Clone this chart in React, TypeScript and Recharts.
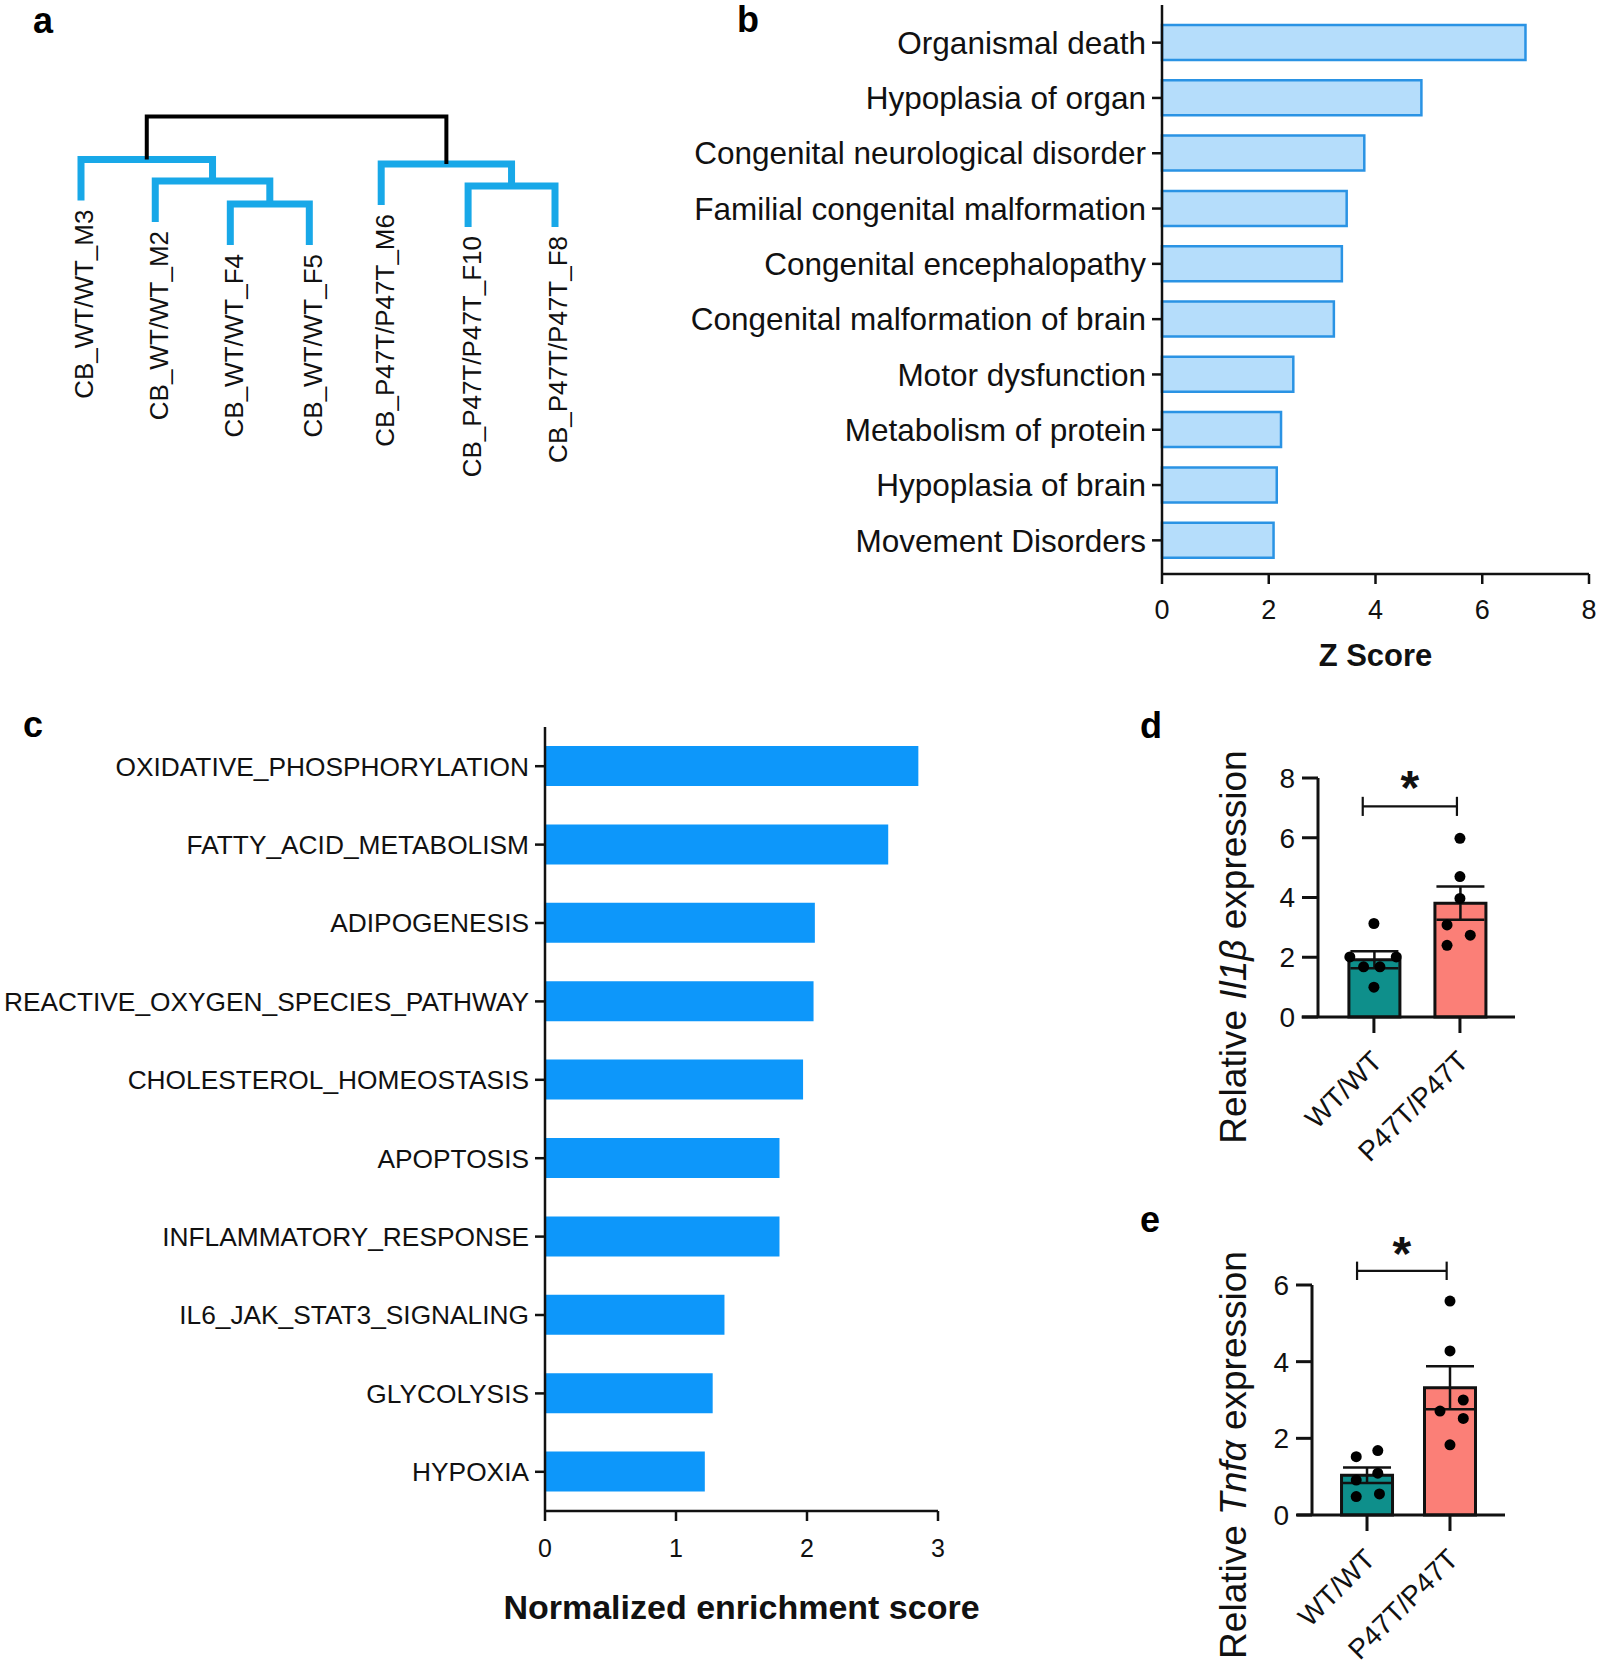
/** Figure: sample clustering, IPA z-scores, GSEA NES and qPCR of Il1b / Tnfa. */

import React from 'react'
import {
  BarChart,
  Bar,
  Cell,
  XAxis,
  YAxis,
  ScatterChart,
  Scatter,
  ComposedChart,
  ErrorBar,
  ReferenceLine,
  ReferenceDot,
  Label,
} from 'recharts'

const FONT = '"Liberation Sans", Arial, Helvetica, sans-serif'
const INK = '#111111'

// ---- a: hierarchical clustering (hclust-style merge table) ----
const leafNames = [
  'CB_WT/WT_M3',
  'CB_WT/WT_M2',
  'CB_WT/WT_F4',
  'CB_WT/WT_F5',
  'CB_P47T/P47T_M6',
  'CB_P47T/P47T_F10',
  'CB_P47T/P47T_F8',
]
// leaf slot along the axis, as drawn in the original
const leafSlot = [0, 0.94, 1.89, 2.89, 3.8, 4.9, 6]
// negative = leaf (1-based), positive = earlier merge row (1-based)
const mergeLeft = [-3, -6, -2, -1, -5, 4]
const mergeRight = [-4, -7, 1, 3, 2, 5]
const mergeHeight = [12.6, 30.6, 35.6, 57, 52.6, 100]
const LEAF_HANG = 41

// ---- b: IPA diseases & functions ----
const ipaTerms = [
  'Organismal death',
  'Hypoplasia of organ',
  'Congenital neurological disorder',
  'Familial congenital malformation',
  'Congenital encephalopathy',
  'Congenital malformation of brain',
  'Motor dysfunction',
  'Metabolism of protein',
  'Hypoplasia of brain',
  'Movement Disorders',
]
const ipaZScores = [6.81, 4.86, 3.79, 3.46, 3.37, 3.22, 2.46, 2.23, 2.15, 2.09]
const zTicks = [0, 2, 4, 6, 8]

// ---- c: GSEA hallmark sets ----
const gseaSets = [
  'OXIDATIVE_PHOSPHORYLATION',
  'FATTY_ACID_METABOLISM',
  'ADIPOGENESIS',
  'REACTIVE_OXYGEN_SPECIES_PATHWAY',
  'CHOLESTEROL_HOMEOSTASIS',
  'APOPTOSIS',
  'INFLAMMATORY_RESPONSE',
  'IL6_JAK_STAT3_SIGNALING',
  'GLYCOLYSIS',
  'HYPOXIA',
]
const gseaNes = [2.85, 2.62, 2.06, 2.05, 1.97, 1.79, 1.79, 1.37, 1.28, 1.22]
const nesTicks = [0, 1, 2, 3]

// ---- d/e: qPCR ----
const genotypes = ['WT/WT', 'P47T/P47T']
const il1bWT = [3.13, 2.01, 2.01, 1.68, 1.68, 1.0]
const il1bP47T = [5.98, 4.7, 3.97, 3.08, 2.74, 2.4]
const tnfaWT = [1.52, 1.68, 0.91, 1.09, 0.48, 0.55]
const tnfaP47T = [5.58, 4.28, 3.0, 2.71, 2.52, 1.83]
const il1bTicks = [0, 2, 4, 6, 8]
const tnfaTicks = [0, 2, 4, 6]

// horizontal spread of the dots inside each bar (category units)
const il1bWTJitter = [0, -0.28, 0.26, -0.12, 0.07, 0]
const il1bP47TJitter = [0, 0, 0, -0.15, 0.12, -0.15]
const tnfaWTJitter = [-0.13, 0.13, -0.13, 0.13, -0.13, 0.15]
const tnfaP47TJitter = [0, 0, 0.16, -0.12, 0.16, 0]

const TEAL = '#0e8f8b'
const SALMON = '#fb7f77'

type Pt = { x: number; y: number }

function buildDendrogram() {
  const merged: Pt[] = []
  const links: Pt[][] = []
  const leaves: (Pt & { name: string })[] = []
  mergeHeight.forEach((h, i) => {
    const kids = [mergeLeft[i], mergeRight[i]].map((ref) => {
      if (ref < 0) {
        const leaf = { x: leafSlot[-ref - 1], y: h - LEAF_HANG, name: leafNames[-ref - 1] }
        leaves.push(leaf)
        return leaf
      }
      return merged[ref - 1]
    })
    merged.push({ x: (kids[0].x + kids[1].x) / 2, y: h })
    links.push([
      { x: kids[0].x, y: kids[0].y },
      { x: kids[0].x, y: h },
      { x: kids[1].x, y: h },
      { x: kids[1].x, y: kids[1].y },
    ])
  })
  return { links, leaves }
}

function Dendrogram() {
  const { links, leaves } = buildDendrogram()
  return (
    <ScatterChart width={620} height={520} margin={{ top: 106.6, right: 25.5, bottom: 243.4, left: 41.5 }}>
      <XAxis type="number" dataKey="x" domain={[-0.5, 6.5]} hide />
      <YAxis type="number" dataKey="y" domain={[-60, 110]} hide />
      {links.map((pts, i) => {
        const isRoot = i === links.length - 1
        const color = isRoot ? '#000000' : '#18a8e8'
        return (
          <Scatter
            key={i}
            data={pts}
            fill={color}
            line={{ stroke: color, strokeWidth: isRoot ? 4 : 7, strokeLinejoin: 'miter' }}
            shape={() => <g />}
            isAnimationActive={false}
          />
        )
      })}
      <Scatter
        data={leaves}
        isAnimationActive={false}
        shape={(p: any) => (
          <text
            x={p.cx}
            y={p.cy + 9}
            transform={`rotate(-90, ${p.cx}, ${p.cy + 9})`}
            textAnchor="end"
            dy="0.48em"
            fontSize={26}
            fill={INK}
          >
            {p.payload.name}
          </text>
        )}
      />
    </ScatterChart>
  )
}

function IpaChart() {
  const rows = ipaTerms.map((term, i) => ({ term, z: ipaZScores[i] }))
  return (
    <BarChart
      width={960}
      height={680}
      data={rows}
      layout="vertical"
      margin={{ top: 5, right: 11, bottom: 6, left: 0 }}
    >
      <XAxis
        type="number"
        domain={[0, 8]}
        ticks={zTicks}
        height={100}
        tickSize={10}
        tickMargin={16}
        tick={{ fontSize: 27, fill: INK }}
        axisLine={{ stroke: INK, strokeWidth: 2.5 }}
        tickLine={{ stroke: INK, strokeWidth: 2.5 }}
      >
        <Label value="Z Score" position="insideBottom" offset={8} fontSize={31} fontWeight={700} fill={INK} />
      </XAxis>
      <YAxis
        type="category"
        dataKey="term"
        width={522}
        interval={0}
        padding={{ top: 10, bottom: 6 }}
        tickSize={10}
        tickMargin={6}
        tick={{ fontSize: 31.5, fill: INK }}
        axisLine={{ stroke: INK, strokeWidth: 2.5 }}
        tickLine={{ stroke: INK, strokeWidth: 2.5 }}
      />
      <Bar dataKey="z" barSize={35} fill="#b5ddfb" stroke="#2a93e4" strokeWidth={2.5} isAnimationActive={false} />
    </BarChart>
  )
}

function GseaChart() {
  const rows = gseaSets.map((set, i) => ({ set, nes: gseaNes[i] }))
  return (
    <BarChart
      width={1000}
      height={978}
      data={rows}
      layout="vertical"
      margin={{ top: 37, right: 62, bottom: 37, left: 0 }}
    >
      <XAxis
        type="number"
        domain={[0, 3]}
        ticks={nesTicks}
        height={120}
        tickSize={10}
        tickMargin={18}
        tick={{ fontSize: 25, fill: INK }}
        axisLine={{ stroke: INK, strokeWidth: 2.5 }}
        tickLine={{ stroke: INK, strokeWidth: 2.5 }}
      >
        <Label
          value="Normalized enrichment score"
          position="insideBottom"
          offset={12}
          fontSize={34}
          fontWeight={700}
          fill={INK}
        />
      </XAxis>
      <YAxis
        type="category"
        dataKey="set"
        width={545}
        interval={0}
        tickSize={10}
        tickMargin={6}
        tick={{ fontSize: 26.3, fill: INK }}
        axisLine={{ stroke: INK, strokeWidth: 2.5 }}
        tickLine={{ stroke: INK, strokeWidth: 2.5 }}
      />
      <Bar dataKey="nes" barSize={40} fill="#0d97fa" isAnimationActive={false} />
    </BarChart>
  )
}

const mean = (v: number[]) => v.reduce((a, b) => a + b, 0) / v.length
const sem = (v: number[]) => {
  const m = mean(v)
  const sd = Math.sqrt(v.reduce((a, b) => a + (b - m) ** 2, 0) / (v.length - 1))
  return sd / Math.sqrt(v.length)
}

interface QpcrProps {
  gene: string
  wt: number[]
  mut: number[]
  wtJitter: number[]
  mutJitter: number[]
  yTicks: number[]
  xDomain: [number, number]
  axisStart: number
  bracket: { y: number; from: number; to: number; cap: number; starY: number }
  width: number
  height: number
  margin: { top: number; right: number; bottom: number; left: number }
  yAxisWidth: number
  labelPos: Pt
}

function QpcrChart(props: QpcrProps) {
  const { wt, mut, yTicks, xDomain, margin, bracket: br } = props
  const groups = [wt, mut]
  const rows = groups.map((g, i) => ({ name: genotypes[i], mean: mean(g), sem: sem(g) }))
  const dots = [
    ...wt.map((v, k) => ({ pos: 0 + props.wtJitter[k], value: v })),
    ...mut.map((v, k) => ({ pos: 1 + props.mutJitter[k], value: v })),
  ]
  // keep the category bands lined up with the numeric axis used for dots/brackets
  const plotW = props.width - margin.left - margin.right - props.yAxisWidth
  const ppu = plotW / (xDomain[1] - xDomain[0])
  const padL = (-0.5 - xDomain[0]) * ppu
  const padR = (xDomain[1] - 1.5) * ppu
  const yMax = yTicks[yTicks.length - 1]
  const line = { stroke: INK, strokeWidth: 2.2 }
  return (
    <ComposedChart width={props.width} height={props.height} data={rows} margin={margin}>
      <XAxis
        xAxisId="cat"
        type="category"
        dataKey="name"
        padding={{ left: padL, right: padR }}
        interval={0}
        height={150}
        axisLine={false}
        tickSize={16}
        tickLine={{ stroke: INK, strokeWidth: 3 }}
        tick={(t: any) => (
          <text
            x={t.x + 3}
            y={t.y + 21}
            transform={`rotate(-45, ${t.x + 3}, ${t.y + 21})`}
            textAnchor="end"
            dy="0.35em"
            fontSize={28}
            fill={INK}
          >
            {t.payload.value}
          </text>
        )}
      />
      <XAxis xAxisId="num" type="number" dataKey="pos" domain={xDomain} allowDataOverflow hide />
      <YAxis
        type="number"
        domain={[0, yMax]}
        ticks={yTicks}
        width={props.yAxisWidth}
        tickSize={16}
        tickMargin={7}
        tick={{ fontSize: 28, fill: INK }}
        axisLine={{ stroke: INK, strokeWidth: 3 }}
        tickLine={{ stroke: INK, strokeWidth: 3 }}
        label={
          <Label
            content={() => (
              <text
                x={props.labelPos.x}
                y={props.labelPos.y}
                transform={`rotate(-90, ${props.labelPos.x}, ${props.labelPos.y})`}
                textAnchor="middle"
                dy="0.35em"
                fontSize={37}
                fill={INK}
              >
                Relative{' '}
                <tspan fontStyle="italic">{props.gene}</tspan> expression
              </text>
            )}
          />
        }
      />
      <ReferenceLine
        xAxisId="num"
        segment={[
          { x: props.axisStart, y: 0 },
          { x: xDomain[1], y: 0 },
        ]}
        stroke={INK}
        strokeWidth={3}
        ifOverflow="visible"
      />
      <Bar xAxisId="cat" dataKey="mean" barSize={51} stroke={INK} strokeWidth={3} isAnimationActive={false}>
        {rows.map((r, i) => (
          <Cell key={r.name} fill={i === 0 ? TEAL : SALMON} />
        ))}
        <ErrorBar dataKey="sem" width={24} stroke={INK} strokeWidth={2.5} direction="y" />
      </Bar>
      <Scatter
        xAxisId="num"
        data={dots}
        dataKey="value"
        isAnimationActive={false}
        shape={(p: any) => <circle cx={p.cx} cy={p.cy} r={5.5} fill="#000" />}
      />
      <ReferenceLine
        xAxisId="num"
        segment={[
          { x: br.from, y: br.y },
          { x: br.to, y: br.y },
        ]}
        {...line}
        ifOverflow="visible"
      />
      <ReferenceLine
        xAxisId="num"
        segment={[
          { x: br.from, y: br.y - br.cap },
          { x: br.from, y: br.y + br.cap },
        ]}
        {...line}
        ifOverflow="visible"
      />
      <ReferenceLine
        xAxisId="num"
        segment={[
          { x: br.to, y: br.y - br.cap },
          { x: br.to, y: br.y + br.cap },
        ]}
        {...line}
        ifOverflow="visible"
      />
      <ReferenceDot
        xAxisId="num"
        x={(br.from + br.to) / 2}
        y={br.starY}
        ifOverflow="visible"
        shape={(p: any) => (
          <text x={p.cx} y={p.cy} dy="0.49em" textAnchor="middle" fontSize={48} fontWeight={700} fill={INK}>
            *
          </text>
        )}
      />
    </ComposedChart>
  )
}

const panelLetters = [
  { t: 'a', x: 33, y: 33 },
  { t: 'b', x: 737, y: 32 },
  { t: 'c', x: 23, y: 737 },
  { t: 'd', x: 1140, y: 738 },
  { t: 'e', x: 1140, y: 1232 },
]

export default function App() {
  return (
    <div
      style={{
        position: 'absolute',
        left: 0,
        top: 0,
        width: 1600,
        height: 1668,
        background: '#fff',
        fontFamily: FONT,
        overflow: 'hidden',
      }}
    >
      <div style={{ position: 'absolute', left: 0, top: 0 }}>
        <Dendrogram />
      </div>
      <div style={{ position: 'absolute', left: 640, top: 0 }}>
        <IpaChart />
      </div>
      <div style={{ position: 'absolute', left: 0, top: 690 }}>
        <GseaChart />
      </div>
      <div style={{ position: 'absolute', left: 1130, top: 690 }}>
        <QpcrChart
          gene="Il1β"
          wt={il1bWT}
          mut={il1bP47T}
          wtJitter={il1bWTJitter}
          mutJitter={il1bP47TJitter}
          yTicks={il1bTicks}
          xDomain={[-0.65, 1.64]}
          axisStart={-0.84}
          bracket={{ y: 7.05, from: -0.13, to: 0.965, cap: 0.32, starY: 7.93 }}
          width={470}
          height={490}
          margin={{ top: 88, right: 85, bottom: 13, left: 0 }}
          yAxisWidth={188}
          labelPos={{ x: 103, y: 257 }}
        />
      </div>
      <div style={{ position: 'absolute', left: 1130, top: 1190 }}>
        <QpcrChart
          gene="Tnfα"
          wt={tnfaWT}
          mut={tnfaP47T}
          wtJitter={tnfaWTJitter}
          mutJitter={tnfaP47TJitter}
          yTicks={tnfaTicks}
          xDomain={[-0.663, 1.663]}
          axisStart={-0.843}
          bracket={{ y: 6.37, from: -0.12, to: 0.96, cap: 0.24, starY: 7.0 }}
          width={470}
          height={478}
          margin={{ top: 95, right: 95, bottom: 3, left: 0 }}
          yAxisWidth={182}
          labelPos={{ x: 103, y: 265 }}
        />
      </div>
      <svg
        width={1600}
        height={1668}
        style={{ position: 'absolute', left: 0, top: 0, pointerEvents: 'none' }}
      >
        {panelLetters.map((l) => (
          <text key={l.t} x={l.x} y={l.y} fontSize={36} fontWeight={700} fill="#000">
            {l.t}
          </text>
        ))}
      </svg>
    </div>
  )
}
